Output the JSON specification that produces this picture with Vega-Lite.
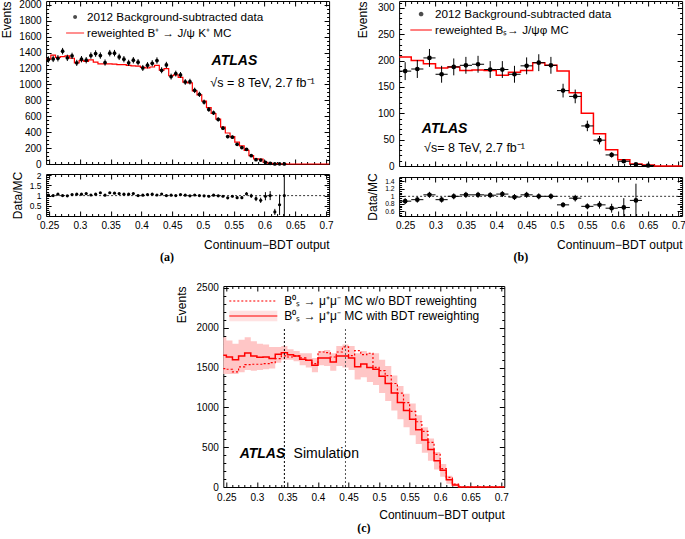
{
  "$schema": "https://vega.github.io/schema/vega-lite/v6.json",
  "padding": {"left": 0, "top": -3, "right": 0, "bottom": 0},
  "background": "white",
  "config": {
    "font": "Liberation Sans",
    "view": {"stroke": "#000", "strokeWidth": 1},
    "axis": {"domain": false, "grid": false, "labelFont": "Liberation Sans", "labelFontSize": 10, "labelColor": "#000", "titleFont": "Liberation Sans", "titleFontSize": 12, "titleFontWeight": "normal", "titleColor": "#000", "tickColor": "#000", "tickWidth": 1, "labelOverlap": false, "labelFlush": false},
    "legend": {"labelFont": "Liberation Sans", "labelColor": "#000"},
    "title": {"font": "Liberation Serif", "fontSize": 12, "fontWeight": "bold", "color": "#000"}
  },
  "datasets": {
    "a": [
      {"lo":0.245,"x":0.2488,"n":1314,"e":40,"mc":1320,"r":1.02,"re":0.04},
      {"lo":0.2527,"x":0.2565,"n":1322,"e":40,"mc":1370,"r":1.0,"re":0.04},
      {"lo":0.2603,"x":0.2642,"n":1330,"e":40,"mc":1340,"r":1.07,"re":0.04},
      {"lo":0.268,"x":0.2718,"n":1419,"e":41,"mc":1350,"r":1.0,"re":0.04},
      {"lo":0.2757,"x":0.2795,"n":1335,"e":40,"mc":1360,"r":0.99,"re":0.04},
      {"lo":0.2833,"x":0.2872,"n":1360,"e":40,"mc":1330,"r":1.05,"re":0.04},
      {"lo":0.291,"x":0.2948,"n":1272,"e":39,"mc":1270,"r":1.07,"re":0.04},
      {"lo":0.2987,"x":0.3025,"n":1318,"e":40,"mc":1300,"r":1.07,"re":0.04},
      {"lo":0.3063,"x":0.3102,"n":1305,"e":40,"mc":1290,"r":1.1,"re":0.04},
      {"lo":0.314,"x":0.3178,"n":1364,"e":40,"mc":1310,"r":1.03,"re":0.04},
      {"lo":0.3217,"x":0.3255,"n":1389,"e":41,"mc":1280,"r":1.07,"re":0.04},
      {"lo":0.3293,"x":0.3332,"n":1364,"e":40,"mc":1260,"r":1.14,"re":0.04},
      {"lo":0.337,"x":0.3408,"n":1276,"e":39,"mc":1260,"r":1.02,"re":0.04},
      {"lo":0.3447,"x":0.3485,"n":1394,"e":41,"mc":1260,"r":1.14,"re":0.04},
      {"lo":0.3523,"x":0.3562,"n":1394,"e":41,"mc":1255,"r":1.12,"re":0.04},
      {"lo":0.36,"x":0.3638,"n":1347,"e":40,"mc":1250,"r":1.1,"re":0.04},
      {"lo":0.3677,"x":0.3715,"n":1318,"e":40,"mc":1250,"r":1.07,"re":0.04},
      {"lo":0.3753,"x":0.3792,"n":1272,"e":39,"mc":1240,"r":1.07,"re":0.04},
      {"lo":0.383,"x":0.3868,"n":1305,"e":40,"mc":1235,"r":1.1,"re":0.04},
      {"lo":0.3907,"x":0.3945,"n":1280,"e":39,"mc":1230,"r":1.0,"re":0.04},
      {"lo":0.3983,"x":0.4022,"n":1208,"e":38,"mc":1215,"r":1.02,"re":0.04},
      {"lo":0.406,"x":0.4098,"n":1242,"e":39,"mc":1210,"r":1.05,"re":0.04},
      {"lo":0.4137,"x":0.4175,"n":1267,"e":39,"mc":1220,"r":1.07,"re":0.04},
      {"lo":0.4213,"x":0.4252,"n":1301,"e":40,"mc":1240,"r":1.03,"re":0.04},
      {"lo":0.429,"x":0.4328,"n":1179,"e":38,"mc":1180,"r":1.08,"re":0.04},
      {"lo":0.4367,"x":0.4405,"n":1246,"e":39,"mc":1200,"r":1.0,"re":0.04},
      {"lo":0.4443,"x":0.4482,"n":1099,"e":37,"mc":1110,"r":1.02,"re":0.04},
      {"lo":0.452,"x":0.4558,"n":1137,"e":37,"mc":1120,"r":1.0,"re":0.04},
      {"lo":0.4597,"x":0.4635,"n":1120,"e":37,"mc":1090,"r":1.05,"re":0.04},
      {"lo":0.4673,"x":0.4712,"n":1032,"e":36,"mc":1030,"r":1.02,"re":0.04},
      {"lo":0.475,"x":0.4788,"n":1036,"e":36,"mc":1020,"r":0.99,"re":0.04},
      {"lo":0.4827,"x":0.4865,"n":926,"e":34,"mc":920,"r":1.03,"re":0.04},
      {"lo":0.4903,"x":0.4942,"n":876,"e":33,"mc":870,"r":1.0,"re":0.04},
      {"lo":0.498,"x":0.5018,"n":779,"e":31,"mc":790,"r":0.99,"re":0.04},
      {"lo":0.5057,"x":0.5095,"n":686,"e":29,"mc":710,"r":0.97,"re":0.05},
      {"lo":0.5133,"x":0.5172,"n":644,"e":28,"mc":635,"r":1.02,"re":0.05},
      {"lo":0.521,"x":0.5248,"n":560,"e":26,"mc":565,"r":0.99,"re":0.05},
      {"lo":0.5287,"x":0.5325,"n":451,"e":24,"mc":465,"r":0.97,"re":0.05},
      {"lo":0.5363,"x":0.5402,"n":345,"e":21,"mc":390,"r":0.89,"re":0.06},
      {"lo":0.544,"x":0.5478,"n":337,"e":21,"mc":345,"r":0.97,"re":0.06},
      {"lo":0.5517,"x":0.5555,"n":248,"e":18,"mc":275,"r":0.9,"re":0.07},
      {"lo":0.5593,"x":0.5632,"n":206,"e":16,"mc":228,"r":0.9,"re":0.07},
      {"lo":0.567,"x":0.5708,"n":185,"e":15,"mc":172,"r":1.09,"re":0.08},
      {"lo":0.5747,"x":0.5785,"n":105,"e":12,"mc":106,"r":0.99,"re":0.1},
      {"lo":0.5823,"x":0.5862,"n":55,"e":9,"mc":65,"r":0.85,"re":0.12},
      {"lo":0.59,"x":0.5938,"n":50,"e":8,"mc":62,"r":0.77,"re":0.13},
      {"lo":0.5977,"x":0.6015,"n":21,"e":5,"mc":22,"r":0.97,"re":0.2},
      {"lo":0.6053,"x":0.6092,"n":8,"e":3.5,"mc":8,"r":1.0,"re":0.22},
      {"lo":0.613,"x":0.6168,"n":1,"e":1.5,"mc":5,"r":0.2,"re":0.15},
      {"lo":0.6207,"x":0.6245,"n":1.6,"e":1.5,"mc":3,"r":0.55,"re":0.5},
      {"lo":0.6283,"x":0.6322,"n":0.6,"e":1,"mc":0.6,"r":1.0,"re":1.5},
      {"lo":0.636,"mc":0},
      {"lo":0.705,"mc":0}
    ],
    "b": [
      {"lo":0.24,"hi":0.26,"x":0.25,"n":180,"e":17,"mc":207,"r":0.87,"re":0.08},
      {"lo":0.26,"hi":0.28,"x":0.27,"n":184,"e":17,"mc":200,"r":0.91,"re":0.08},
      {"lo":0.28,"hi":0.30,"x":0.29,"n":205,"e":17,"mc":194,"r":1.04,"re":0.08},
      {"lo":0.30,"hi":0.32,"x":0.31,"n":174,"e":16,"mc":186,"r":0.91,"re":0.08},
      {"lo":0.32,"hi":0.34,"x":0.33,"n":188,"e":16,"mc":188,"r":1.0,"re":0.08},
      {"lo":0.34,"hi":0.36,"x":0.35,"n":191,"e":16,"mc":181,"r":1.04,"re":0.08},
      {"lo":0.36,"hi":0.38,"x":0.37,"n":193,"e":16,"mc":182,"r":1.04,"re":0.08},
      {"lo":0.38,"hi":0.40,"x":0.39,"n":183,"e":16,"mc":181,"r":1.03,"re":0.08},
      {"lo":0.40,"hi":0.42,"x":0.41,"n":183,"e":16,"mc":172,"r":1.06,"re":0.08},
      {"lo":0.42,"hi":0.44,"x":0.43,"n":174,"e":16,"mc":178,"r":0.98,"re":0.08},
      {"lo":0.44,"hi":0.46,"x":0.45,"n":190,"e":16,"mc":181,"r":1.04,"re":0.08},
      {"lo":0.46,"hi":0.48,"x":0.47,"n":196,"e":16,"mc":196,"r":1.0,"re":0.08},
      {"lo":0.48,"hi":0.50,"x":0.49,"n":191,"e":16,"mc":191,"r":1.0,"re":0.08},
      {"lo":0.50,"hi":0.52,"x":0.51,"n":143,"e":13,"mc":180,"r":0.77,"re":0.07},
      {"lo":0.52,"hi":0.54,"x":0.53,"n":132,"e":13,"mc":139,"r":0.95,"re":0.09},
      {"lo":0.54,"hi":0.56,"x":0.55,"n":76,"e":10,"mc":100,"r":0.73,"re":0.08},
      {"lo":0.56,"hi":0.58,"x":0.57,"n":49,"e":8,"mc":61,"r":0.77,"re":0.1},
      {"lo":0.58,"hi":0.60,"x":0.59,"n":21,"e":5,"mc":31,"r":0.68,"re":0.12},
      {"lo":0.60,"hi":0.62,"x":0.61,"n":9,"e":3,"mc":12,"r":0.70,"re":0.25},
      {"lo":0.62,"hi":0.64,"x":0.63,"n":3,"e":2,"mc":4,"r":0.89,"re":0.45},
      {"lo":0.64,"hi":0.66,"x":0.65,"n":1,"e":1,"mc":2},
      {"lo":0.66,"mc":0},
      {"lo":0.706,"mc":0}
    ],
    "c": [
      {"lo":0.245,"w":1654,"wo":1488,"blo":1420,"bhi":1880},
      {"lo":0.25,"w":1633,"wo":1479,"blo":1420,"bhi":1840},
      {"lo":0.26,"w":1600,"wo":1446,"blo":1420,"bhi":1800},
      {"lo":0.27,"w":1646,"wo":1508,"blo":1440,"bhi":1850},
      {"lo":0.28,"w":1683,"wo":1538,"blo":1470,"bhi":1880},
      {"lo":0.29,"w":1646,"wo":1542,"blo":1460,"bhi":1830},
      {"lo":0.30,"w":1629,"wo":1542,"blo":1470,"bhi":1800},
      {"lo":0.31,"w":1633,"wo":1550,"blo":1480,"bhi":1790},
      {"lo":0.32,"w":1613,"wo":1562,"blo":1490,"bhi":1760},
      {"lo":0.33,"w":1667,"wo":1613,"blo":1560,"bhi":1760},
      {"lo":0.34,"w":1688,"wo":1646,"blo":1600,"bhi":1770},
      {"lo":0.35,"w":1662,"wo":1633,"blo":1600,"bhi":1730},
      {"lo":0.36,"w":1646,"wo":1646,"blo":1580,"bhi":1710},
      {"lo":0.37,"w":1604,"wo":1621,"blo":1530,"bhi":1680},
      {"lo":0.38,"w":1592,"wo":1592,"blo":1500,"bhi":1680},
      {"lo":0.39,"w":1529,"wo":1550,"blo":1440,"bhi":1620},
      {"lo":0.40,"w":1621,"wo":1696,"blo":1530,"bhi":1710},
      {"lo":0.41,"w":1621,"wo":1688,"blo":1520,"bhi":1720},
      {"lo":0.42,"w":1571,"wo":1633,"blo":1460,"bhi":1680},
      {"lo":0.43,"w":1646,"wo":1696,"blo":1520,"bhi":1770},
      {"lo":0.44,"w":1646,"wo":1760,"blo":1500,"bhi":1790},
      {"lo":0.45,"w":1621,"wo":1650,"blo":1470,"bhi":1770},
      {"lo":0.46,"w":1512,"wo":1712,"blo":1350,"bhi":1680},
      {"lo":0.47,"w":1546,"wo":1663,"blo":1380,"bhi":1710},
      {"lo":0.48,"w":1500,"wo":1680,"blo":1320,"bhi":1680},
      {"lo":0.49,"w":1480,"wo":1504,"blo":1280,"bhi":1680},
      {"lo":0.50,"w":1390,"wo":1463,"blo":1180,"bhi":1600},
      {"lo":0.51,"w":1300,"wo":1400,"blo":1080,"bhi":1520},
      {"lo":0.52,"w":1180,"wo":1300,"blo":960,"bhi":1400},
      {"lo":0.53,"w":1060,"wo":1180,"blo":850,"bhi":1270},
      {"lo":0.54,"w":960,"wo":1060,"blo":750,"bhi":1170},
      {"lo":0.55,"w":850,"wo":950,"blo":650,"bhi":1050},
      {"lo":0.56,"w":720,"wo":820,"blo":540,"bhi":900},
      {"lo":0.57,"w":590,"wo":700,"blo":430,"bhi":750},
      {"lo":0.58,"w":470,"wo":560,"blo":330,"bhi":610},
      {"lo":0.59,"w":330,"wo":410,"blo":220,"bhi":440},
      {"lo":0.60,"w":210,"wo":230,"blo":130,"bhi":290},
      {"lo":0.61,"w":90,"wo":120,"blo":40,"bhi":140},
      {"lo":0.62,"w":25,"wo":35,"blo":5,"bhi":45},
      {"lo":0.63,"w":0,"wo":0,"blo":0,"bhi":0},
      {"lo":0.705,"w":0,"wo":0,"blo":0,"bhi":0}
    ],
    "cuts": [{"cut":0.345,"tone":"a"},{"cut":0.445,"tone":"b"}],
    "one": [{}]
  },
  "vconcat": [
    {
      "hconcat": [
        {
          "vconcat": [
            {
              "width": 283, "height": 163,
              "data": {"name": "a"},
              "layer": [
                {
                  "mark": {"type": "line", "interpolate": "step-after", "color": "#ff0000", "strokeWidth": 1.2},
                  "encoding": {
                    "x": {"field": "lo", "type": "quantitative", "scale": {"domain": [0.245, 0.705], "nice": false, "zero": false},
                      "axis": {"orient": "bottom", "values": [0.25,0.26,0.27,0.28,0.29,0.3,0.31,0.32,0.33,0.34,0.35,0.36,0.37,0.38,0.39,0.4,0.41,0.42,0.43,0.44,0.45,0.46,0.47,0.48,0.49,0.5,0.51,0.52,0.53,0.54,0.55,0.56,0.57,0.58,0.59,0.6,0.61,0.62,0.63,0.64,0.65,0.66,0.67,0.68,0.69,0.7], "labels": false, "title": null,
                        "tickSize": {"condition": {"test": "abs(datum.value*20-round(datum.value*20))<0.01", "value": -5}, "value": -2.5}}},
                    "y": {"field": "mc", "type": "quantitative", "scale": {"domain": [0, 2050], "nice": false},
                      "axis": {"orient": "left", "values": [0,50,100,150,200,250,300,350,400,450,500,550,600,650,700,750,800,850,900,950,1000,1050,1100,1150,1200,1250,1300,1350,1400,1450,1500,1550,1600,1650,1700,1750,1800,1850,1900,1950,2000], "format": "d",
                        "labelExpr": "datum.value % 200 == 0 ? datum.label : ''",
                        "tickSize": {"condition": {"test": "datum.value % 200 == 0", "value": -5}, "value": -2.5},
                        "labelPadding": 10, "title": "Events", "titleAnchor": "end", "titlePadding": 5}}
                  }
                },
                {
                  "transform": [{"filter": "isValid(datum.n)"}],
                  "mark": {"type": "errorbar", "color": "#000", "thickness": 1},
                  "encoding": {
                    "x": {"field": "x", "type": "quantitative", "axis": null},
                    "y": {"field": "n", "type": "quantitative", "axis": null},
                    "yError": {"field": "e"}
                  }
                },
                {
                  "mark": {"type": "point", "filled": true, "color": "#000", "size": 14, "opacity": 1},
                  "encoding": {
                    "x": {"field": "x", "type": "quantitative", "axis": null},
                    "y": {"field": "n", "type": "quantitative", "axis": null}
                  }
                },
                {
                  "transform": [{"filter": "datum.lo < 0"}],
                  "mark": {"type": "point", "filled": true},
                  "encoding": {
                    "x": {"field": "lo", "type": "quantitative",
                      "axis": {"orient": "top", "values": [0.25,0.26,0.27,0.28,0.29,0.3,0.31,0.32,0.33,0.34,0.35,0.36,0.37,0.38,0.39,0.4,0.41,0.42,0.43,0.44,0.45,0.46,0.47,0.48,0.49,0.5,0.51,0.52,0.53,0.54,0.55,0.56,0.57,0.58,0.59,0.6,0.61,0.62,0.63,0.64,0.65,0.66,0.67,0.68,0.69,0.7], "labels": false, "title": null,
                        "tickSize": {"condition": {"test": "abs(datum.value*20-round(datum.value*20))<0.01", "value": -5}, "value": -2.5}}},
                    "y": {"field": "mc", "type": "quantitative",
                      "axis": {"orient": "right", "values": [0,50,100,150,200,250,300,350,400,450,500,550,600,650,700,750,800,850,900,950,1000,1050,1100,1150,1200,1250,1300,1350,1400,1450,1500,1550,1600,1650,1700,1750,1800,1850,1900,1950,2000], "labels": false, "title": null,
                        "tickSize": {"condition": {"test": "datum.value % 200 == 0", "value": -5}, "value": -2.5}}},
                    "color": {"field": "sa", "type": "nominal", "scale": {"domain": ["2012 Background-subtracted data", "reweighted B⁺ → J/ψ K⁺ MC"], "range": ["#000000", "#ff0000"]},
                      "legend": {"title": null, "orient": "none", "legendX": 20, "legendY": 7, "symbolSize": 324, "symbolStrokeWidth": 0, "labelFontSize": 11.7, "labelOffset": 3, "rowPadding": 0, "padding": 0, "labelLimit": 400}},
                    "shape": {"field": "sa", "type": "nominal", "scale": {"domain": ["2012 Background-subtracted data", "reweighted B⁺ → J/ψ K⁺ MC"], "range": ["M-0.22,0A0.22,0.22 0 1,0 0.22,0A0.22,0.22 0 1,0 -0.22,0Z", "M-1,-0.07H1V0.07H-1Z"]},
                      "legend": {"title": null, "orient": "none", "legendX": 20, "legendY": 7, "symbolSize": 324, "symbolStrokeWidth": 0, "labelFontSize": 11.7, "labelOffset": 3, "rowPadding": 0, "padding": 0, "labelLimit": 400}}
                  }
                },
                {
                  "data": {"name": "one"},
                  "mark": {"type": "text", "text": "ATLAS", "font": "Liberation Sans", "fontSize": 14, "fontWeight": "bold", "fontStyle": "italic", "align": "left", "baseline": "middle"},
                  "encoding": {"x": {"datum": 0.514, "type": "quantitative", "axis": null}, "y": {"datum": 1292, "type": "quantitative", "axis": null}}
                },
                {
                  "data": {"name": "one"},
                  "mark": {"type": "text", "text": "√s = 8 TeV, 2.7 fb⁻¹", "font": "Liberation Sans", "fontSize": 12.5, "align": "left", "baseline": "middle"},
                  "encoding": {"x": {"datum": 0.512, "type": "quantitative", "axis": null}, "y": {"datum": 1020, "type": "quantitative", "axis": null}}
                }
              ],
              "resolve": {"axis": {"x": "independent", "y": "independent"}}
            },
            {
              "width": 283, "height": 42,
              "data": {"name": "a"},
              "layer": [
                {
                  "transform": [{"filter": "isValid(datum.r)"}],
                  "mark": {"type": "point", "filled": true, "color": "#000", "size": 10, "opacity": 1},
                  "encoding": {
                    "x": {"field": "x", "type": "quantitative", "scale": {"domain": [0.245, 0.705], "nice": false, "zero": false},
                      "axis": {"orient": "bottom", "values": [0.25,0.26,0.27,0.28,0.29,0.3,0.31,0.32,0.33,0.34,0.35,0.36,0.37,0.38,0.39,0.4,0.41,0.42,0.43,0.44,0.45,0.46,0.47,0.48,0.49,0.5,0.51,0.52,0.53,0.54,0.55,0.56,0.57,0.58,0.59,0.6,0.61,0.62,0.63,0.64,0.65,0.66,0.67,0.68,0.69,0.7], "format": ".2~f",
                        "labelExpr": "abs(datum.value*20-round(datum.value*20))<0.01 ? datum.label : ''",
                        "tickSize": {"condition": {"test": "abs(datum.value*20-round(datum.value*20))<0.01", "value": -5}, "value": -2.5},
                        "labelPadding": 9, "title": "Continuum−BDT output", "titleAnchor": "end", "titlePadding": 7}},
                    "y": {"field": "r", "type": "quantitative", "scale": {"domain": [0, 2.06], "nice": false, "clamp": true},
                      "axis": {"orient": "left", "values": [0,0.1,0.2,0.3,0.4,0.5,0.6,0.7,0.8,0.9,1,1.1,1.2,1.3,1.4,1.5,1.6,1.7,1.8,1.9,2], "format": ".1~f",
                        "labelExpr": "abs(datum.value*2-round(datum.value*2))<0.01 ? datum.label : ''",
                        "tickSize": {"condition": {"test": "abs(datum.value*2-round(datum.value*2))<0.01", "value": -5}, "value": -2.5},
                        "labelFontSize": 8.5, "labelPadding": 10, "title": "Data/MC", "titleAnchor": "middle", "titlePadding": 5}}
                  }
                },
                {
                  "transform": [{"filter": "isValid(datum.r)"}],
                  "mark": {"type": "errorbar", "color": "#000", "thickness": 1},
                  "encoding": {
                    "x": {"field": "x", "type": "quantitative", "axis": null},
                    "y": {"field": "r", "type": "quantitative", "axis": null},
                    "yError": {"field": "re"}
                  }
                },
                {
                  "data": {"name": "one"},
                  "mark": {"type": "rule", "color": "#000", "strokeDash": [2, 2], "strokeWidth": 0.8},
                  "encoding": {"y": {"datum": 1, "type": "quantitative", "axis": null}}
                },
                {
                  "transform": [{"filter": "datum.lo < 0"}],
                  "mark": {"type": "point"},
                  "encoding": {
                    "x": {"field": "x", "type": "quantitative",
                      "axis": {"orient": "top", "values": [0.25,0.26,0.27,0.28,0.29,0.3,0.31,0.32,0.33,0.34,0.35,0.36,0.37,0.38,0.39,0.4,0.41,0.42,0.43,0.44,0.45,0.46,0.47,0.48,0.49,0.5,0.51,0.52,0.53,0.54,0.55,0.56,0.57,0.58,0.59,0.6,0.61,0.62,0.63,0.64,0.65,0.66,0.67,0.68,0.69,0.7], "labels": false, "title": null,
                        "tickSize": {"condition": {"test": "abs(datum.value*20-round(datum.value*20))<0.01", "value": -5}, "value": -2.5}}},
                    "y": {"field": "r", "type": "quantitative",
                      "axis": {"orient": "right", "values": [0,0.1,0.2,0.3,0.4,0.5,0.6,0.7,0.8,0.9,1,1.1,1.2,1.3,1.4,1.5,1.6,1.7,1.8,1.9,2], "labels": false, "title": null,
                        "tickSize": {"condition": {"test": "abs(datum.value*2-round(datum.value*2))<0.01", "value": -5}, "value": -2.5}}}
                  }
                }
              ],
              "resolve": {"axis": {"x": "independent", "y": "independent"}}
            }
          ],
          "spacing": 0,
          "title": {"text": "(a)", "orient": "bottom", "anchor": "middle", "offset": 1},
          "resolve": {"scale": {"x": "independent", "y": "independent", "color": "independent", "shape": "independent"}, "legend": {"color": "independent", "shape": "independent"}}
        },
        {
          "vconcat": [
            {
              "width": 283, "height": 165,
              "data": {"name": "b"},
              "layer": [
                {
                  "mark": {"type": "line", "interpolate": "step-after", "color": "#ff0000", "strokeWidth": 1.5},
                  "encoding": {
                    "x": {"field": "lo", "type": "quantitative", "scale": {"domain": [0.24, 0.706], "nice": false, "zero": false},
                      "axis": {"orient": "bottom", "values": [0.25,0.26,0.27,0.28,0.29,0.3,0.31,0.32,0.33,0.34,0.35,0.36,0.37,0.38,0.39,0.4,0.41,0.42,0.43,0.44,0.45,0.46,0.47,0.48,0.49,0.5,0.51,0.52,0.53,0.54,0.55,0.56,0.57,0.58,0.59,0.6,0.61,0.62,0.63,0.64,0.65,0.66,0.67,0.68,0.69,0.7], "labels": false, "title": null,
                        "tickSize": {"condition": {"test": "abs(datum.value*20-round(datum.value*20))<0.01", "value": -5}, "value": -2.5}}},
                    "y": {"field": "mc", "type": "quantitative", "scale": {"domain": [0, 313], "nice": false},
                      "axis": {"orient": "left", "values": [0,10,20,30,40,50,60,70,80,90,100,110,120,130,140,150,160,170,180,190,200,210,220,230,240,250,260,270,280,290,300,310], "format": "d",
                        "labelExpr": "datum.value % 50 == 0 ? datum.label : ''",
                        "tickSize": {"condition": {"test": "datum.value % 50 == 0", "value": -5}, "value": -2.5},
                        "labelPadding": 10, "title": "Events", "titleAnchor": "end", "titlePadding": 8}}
                  }
                },
                {
                  "transform": [{"filter": "isValid(datum.n)"}],
                  "mark": {"type": "rule", "color": "#000", "strokeWidth": 1},
                  "encoding": {
                    "x": {"field": "lo", "type": "quantitative", "axis": null},
                    "x2": {"field": "hi"},
                    "y": {"field": "n", "type": "quantitative", "axis": null}
                  }
                },
                {
                  "transform": [{"filter": "isValid(datum.n)"}],
                  "mark": {"type": "errorbar", "color": "#000", "thickness": 1},
                  "encoding": {
                    "x": {"field": "x", "type": "quantitative", "axis": null},
                    "y": {"field": "n", "type": "quantitative", "axis": null},
                    "yError": {"field": "e"}
                  }
                },
                {
                  "mark": {"type": "point", "filled": true, "color": "#000", "size": 22, "opacity": 1},
                  "encoding": {
                    "x": {"field": "x", "type": "quantitative", "axis": null},
                    "y": {"field": "n", "type": "quantitative", "axis": null}
                  }
                },
                {
                  "transform": [{"filter": "datum.lo < 0"}],
                  "mark": {"type": "point", "filled": true},
                  "encoding": {
                    "x": {"field": "lo", "type": "quantitative",
                      "axis": {"orient": "top", "values": [0.25,0.26,0.27,0.28,0.29,0.3,0.31,0.32,0.33,0.34,0.35,0.36,0.37,0.38,0.39,0.4,0.41,0.42,0.43,0.44,0.45,0.46,0.47,0.48,0.49,0.5,0.51,0.52,0.53,0.54,0.55,0.56,0.57,0.58,0.59,0.6,0.61,0.62,0.63,0.64,0.65,0.66,0.67,0.68,0.69,0.7], "labels": false, "title": null,
                        "tickSize": {"condition": {"test": "abs(datum.value*20-round(datum.value*20))<0.01", "value": -5}, "value": -2.5}}},
                    "y": {"field": "mc", "type": "quantitative",
                      "axis": {"orient": "right", "values": [0,10,20,30,40,50,60,70,80,90,100,110,120,130,140,150,160,170,180,190,200,210,220,230,240,250,260,270,280,290,300,310], "labels": false, "title": null,
                        "tickSize": {"condition": {"test": "datum.value % 50 == 0", "value": -5}, "value": -2.5}}},
                    "color": {"field": "sb", "type": "nominal", "scale": {"domain": ["2012 Background-subtracted data", "reweighted Bₛ→ J/ψφ MC"], "range": ["#000000", "#ff0000"]},
                      "legend": {"title": null, "orient": "none", "legendX": 13, "legendY": 4, "symbolSize": 324, "symbolStrokeWidth": 0, "labelFontSize": 11.7, "labelOffset": 5, "rowPadding": 0, "padding": 0, "labelLimit": 400}},
                    "shape": {"field": "sb", "type": "nominal", "scale": {"domain": ["2012 Background-subtracted data", "reweighted Bₛ→ J/ψφ MC"], "range": ["M-0.26,0A0.26,0.26 0 1,0 0.26,0A0.26,0.26 0 1,0 -0.26,0Z", "M-1.2,-0.08H1.2V0.08H-1.2Z"]},
                      "legend": {"title": null, "orient": "none", "legendX": 13, "legendY": 4, "symbolSize": 324, "symbolStrokeWidth": 0, "labelFontSize": 11.7, "labelOffset": 5, "rowPadding": 0, "padding": 0, "labelLimit": 400}}
                  }
                },
                {
                  "data": {"name": "one"},
                  "mark": {"type": "text", "text": "ATLAS", "font": "Liberation Sans", "fontSize": 14, "fontWeight": "bold", "fontStyle": "italic", "align": "left", "baseline": "middle"},
                  "encoding": {"x": {"datum": 0.2774, "type": "quantitative", "axis": null}, "y": {"datum": 70, "type": "quantitative", "axis": null}}
                },
                {
                  "data": {"name": "one"},
                  "mark": {"type": "text", "text": "√s= 8 TeV, 2.7 fb⁻¹", "font": "Liberation Sans", "fontSize": 12.5, "align": "left", "baseline": "middle"},
                  "encoding": {"x": {"datum": 0.2812, "type": "quantitative", "axis": null}, "y": {"datum": 34, "type": "quantitative", "axis": null}}
                }
              ],
              "resolve": {"axis": {"x": "independent", "y": "independent"}}
            },
            {
              "width": 283, "height": 39,
              "data": {"name": "b"},
              "layer": [
                {
                  "transform": [{"filter": "isValid(datum.r)"}],
                  "mark": {"type": "point", "filled": true, "color": "#000", "size": 22, "opacity": 1},
                  "encoding": {
                    "x": {"field": "x", "type": "quantitative", "scale": {"domain": [0.24, 0.706], "nice": false, "zero": false},
                      "axis": {"orient": "bottom", "values": [0.25,0.26,0.27,0.28,0.29,0.3,0.31,0.32,0.33,0.34,0.35,0.36,0.37,0.38,0.39,0.4,0.41,0.42,0.43,0.44,0.45,0.46,0.47,0.48,0.49,0.5,0.51,0.52,0.53,0.54,0.55,0.56,0.57,0.58,0.59,0.6,0.61,0.62,0.63,0.64,0.65,0.66,0.67,0.68,0.69,0.7], "format": ".2~f",
                        "labelExpr": "abs(datum.value*20-round(datum.value*20))<0.01 ? datum.label : ''",
                        "tickSize": {"condition": {"test": "abs(datum.value*20-round(datum.value*20))<0.01", "value": -5}, "value": -2.5},
                        "labelPadding": 9, "title": "Continuum−BDT output", "titleAnchor": "end", "titlePadding": 7}},
                    "y": {"field": "r", "type": "quantitative", "scale": {"domain": [0.47, 1.52], "nice": false, "clamp": true},
                      "axis": {"orient": "left", "values": [0.5,0.55,0.6,0.65,0.7,0.75,0.8,0.85,0.9,0.95,1,1.05,1.1,1.15,1.2,1.25,1.3,1.35,1.4,1.45,1.5], "format": ".1~f",
                        "labelExpr": "abs(datum.value*5-round(datum.value*5))<0.01 && datum.value > 0.55 && datum.value < 1.45 ? datum.label : ''",
                        "tickSize": {"condition": {"test": "abs(datum.value*5-round(datum.value*5))<0.01", "value": -5}, "value": -2.5},
                        "labelFontSize": 6.8, "labelPadding": 10, "title": "Data/MC", "titleAnchor": "middle", "titlePadding": 5}}
                  }
                },
                {
                  "transform": [{"filter": "isValid(datum.r)"}],
                  "mark": {"type": "errorbar", "color": "#000", "thickness": 1},
                  "encoding": {
                    "x": {"field": "x", "type": "quantitative", "axis": null},
                    "y": {"field": "r", "type": "quantitative", "axis": null},
                    "yError": {"field": "re"}
                  }
                },
                {
                  "transform": [{"filter": "isValid(datum.r)"}],
                  "mark": {"type": "rule", "color": "#000", "strokeWidth": 1},
                  "encoding": {
                    "x": {"field": "lo", "type": "quantitative", "axis": null},
                    "x2": {"field": "hi"},
                    "y": {"field": "r", "type": "quantitative", "axis": null}
                  }
                },
                {
                  "data": {"name": "one"},
                  "mark": {"type": "rule", "color": "#000", "strokeDash": [2, 2], "strokeWidth": 0.8},
                  "encoding": {"y": {"datum": 1, "type": "quantitative", "axis": null}}
                },
                {
                  "transform": [{"filter": "datum.lo < 0"}],
                  "mark": {"type": "point"},
                  "encoding": {
                    "x": {"field": "x", "type": "quantitative",
                      "axis": {"orient": "top", "values": [0.25,0.26,0.27,0.28,0.29,0.3,0.31,0.32,0.33,0.34,0.35,0.36,0.37,0.38,0.39,0.4,0.41,0.42,0.43,0.44,0.45,0.46,0.47,0.48,0.49,0.5,0.51,0.52,0.53,0.54,0.55,0.56,0.57,0.58,0.59,0.6,0.61,0.62,0.63,0.64,0.65,0.66,0.67,0.68,0.69,0.7], "labels": false, "title": null,
                        "tickSize": {"condition": {"test": "abs(datum.value*20-round(datum.value*20))<0.01", "value": -5}, "value": -2.5}}},
                    "y": {"field": "r", "type": "quantitative",
                      "axis": {"orient": "right", "values": [0.5,0.55,0.6,0.65,0.7,0.75,0.8,0.85,0.9,0.95,1,1.05,1.1,1.15,1.2,1.25,1.3,1.35,1.4,1.45,1.5], "labels": false, "title": null,
                        "tickSize": {"condition": {"test": "abs(datum.value*5-round(datum.value*5))<0.01", "value": -5}, "value": -2.5}}}
                  }
                }
              ],
              "resolve": {"axis": {"x": "independent", "y": "independent"}}
            }
          ],
          "spacing": 0,
          "title": {"text": "(b)", "orient": "bottom", "anchor": "middle", "offset": 1},
          "resolve": {"scale": {"x": "independent", "y": "independent", "color": "independent", "shape": "independent"}, "legend": {"color": "independent", "shape": "independent"}}
        }
      ],
      "spacing": 21,
      "resolve": {"scale": {"x": "independent", "y": "independent", "color": "independent", "shape": "independent"}, "legend": {"color": "independent", "shape": "independent"}}
    },
    {
      "width": 281, "height": 201,
      "data": {"name": "c"},
      "title": {"text": "(c)", "orient": "bottom", "anchor": "middle", "offset": 2},
      "layer": [
        {
          "mark": {"type": "area", "interpolate": "step-after", "color": "#ffc6c6", "opacity": 1},
          "encoding": {
            "x": {"field": "lo", "type": "quantitative", "scale": {"domain": [0.245, 0.705], "nice": false, "zero": false},
              "axis": {"orient": "bottom", "values": [0.25,0.26,0.27,0.28,0.29,0.3,0.31,0.32,0.33,0.34,0.35,0.36,0.37,0.38,0.39,0.4,0.41,0.42,0.43,0.44,0.45,0.46,0.47,0.48,0.49,0.5,0.51,0.52,0.53,0.54,0.55,0.56,0.57,0.58,0.59,0.6,0.61,0.62,0.63,0.64,0.65,0.66,0.67,0.68,0.69,0.7], "format": ".2~f",
                "labelExpr": "abs(datum.value*20-round(datum.value*20))<0.01 ? datum.label : ''",
                "tickSize": {"condition": {"test": "abs(datum.value*20-round(datum.value*20))<0.01", "value": -5}, "value": -2.5},
                "labelPadding": 10, "title": "Continuum−BDT output", "titleAnchor": "end", "titlePadding": 5}},
            "y": {"field": "blo", "type": "quantitative", "scale": {"domain": [0, 2525], "nice": false},
              "axis": {"orient": "left", "values": [0,100,200,300,400,500,600,700,800,900,1000,1100,1200,1300,1400,1500,1600,1700,1800,1900,2000,2100,2200,2300,2400,2500], "format": "d",
                "labelExpr": "datum.value % 500 == 0 ? datum.label : ''",
                "tickSize": {"condition": {"test": "datum.value % 500 == 0", "value": -5}, "value": -2.5},
                "labelPadding": 10, "title": "Events", "titleAnchor": "end", "titlePadding": 8}},
            "y2": {"field": "bhi"}
          }
        },
        {
          "mark": {"type": "line", "interpolate": "step-after", "color": "#ff0000", "strokeWidth": 1.2, "strokeDash": [2, 2]},
          "encoding": {
            "x": {"field": "lo", "type": "quantitative", "axis": null},
            "y": {"field": "wo", "type": "quantitative", "axis": null}
          }
        },
        {
          "mark": {"type": "line", "interpolate": "step-after", "color": "#ff0000", "strokeWidth": 1.5},
          "encoding": {
            "x": {"field": "lo", "type": "quantitative", "axis": null},
            "y": {"field": "w", "type": "quantitative", "axis": null}
          }
        },
        {
          "data": {"name": "cuts"},
          "mark": {"type": "rule", "strokeDash": [2, 2], "strokeWidth": 1},
          "encoding": {
            "x": {"field": "cut", "type": "quantitative", "axis": null},
            "y": {"datum": 0, "type": "quantitative", "axis": null},
            "y2": {"datum": 2000},
            "color": {"field": "tone", "type": "nominal", "scale": {"domain": ["a", "b"], "range": ["#000000", "#555555"]}, "legend": null}
          }
        },
        {
          "data": {"name": "one"},
          "mark": {"type": "text", "text": "ATLAS", "font": "Liberation Sans", "fontSize": 14, "fontWeight": "bold", "fontStyle": "italic", "align": "left", "baseline": "middle"},
          "encoding": {"x": {"datum": 0.2718, "type": "quantitative", "axis": null}, "y": {"datum": 412, "type": "quantitative", "axis": null}}
        },
        {
          "data": {"name": "one"},
          "mark": {"type": "text", "text": "Simulation", "font": "Liberation Sans", "fontSize": 14, "align": "left", "baseline": "middle"},
          "encoding": {"x": {"datum": 0.36, "type": "quantitative", "axis": null}, "y": {"datum": 412, "type": "quantitative", "axis": null}}
        },
        {
          "transform": [{"filter": "datum.lo < 0"}],
          "mark": {"type": "point", "filled": true},
          "encoding": {
            "x": {"field": "lo", "type": "quantitative",
              "axis": {"orient": "top", "values": [0.25,0.26,0.27,0.28,0.29,0.3,0.31,0.32,0.33,0.34,0.35,0.36,0.37,0.38,0.39,0.4,0.41,0.42,0.43,0.44,0.45,0.46,0.47,0.48,0.49,0.5,0.51,0.52,0.53,0.54,0.55,0.56,0.57,0.58,0.59,0.6,0.61,0.62,0.63,0.64,0.65,0.66,0.67,0.68,0.69,0.7], "labels": false, "title": null,
                "tickSize": {"condition": {"test": "abs(datum.value*20-round(datum.value*20))<0.01", "value": -5}, "value": -2.5}}},
            "y": {"field": "w", "type": "quantitative",
              "axis": {"orient": "right", "values": [0,100,200,300,400,500,600,700,800,900,1000,1100,1200,1300,1400,1500,1600,1700,1800,1900,2000,2100,2200,2300,2400,2500], "labels": false, "title": null,
                "tickSize": {"condition": {"test": "datum.value % 500 == 0", "value": -5}, "value": -2.5}}},
            "fill": {"field": "sc", "type": "nominal", "scale": {"domain": ["B⁰ₛ → μ⁺μ⁻ MC w/o BDT reweighting", "B⁰ₛ → μ⁺μ⁻ MC with BDT reweighting"], "range": ["#ffc6c6", "#ffc6c6"]},
              "legend": {"title": null, "orient": "none", "legendX": 21, "legendY": 6, "symbolSize": 256, "symbolStrokeWidth": 1.5, "labelFontSize": 12, "labelOffset": 22, "rowPadding": 0, "padding": 0, "labelLimit": 400}},
            "stroke": {"field": "sc", "type": "nominal", "scale": {"domain": ["B⁰ₛ → μ⁺μ⁻ MC w/o BDT reweighting", "B⁰ₛ → μ⁺μ⁻ MC with BDT reweighting"], "range": ["#ff0000", "#ff0000"]},
              "legend": {"title": null, "orient": "none", "legendX": 21, "legendY": 6, "symbolSize": 256, "symbolStrokeWidth": 1.5, "labelFontSize": 12, "labelOffset": 22, "rowPadding": 0, "padding": 0, "labelLimit": 400}},
            "shape": {"field": "sc", "type": "nominal", "scale": {"domain": ["B⁰ₛ → μ⁺μ⁻ MC w/o BDT reweighting", "B⁰ₛ → μ⁺μ⁻ MC with BDT reweighting"], "range": ["M-3,0H3", "M-3,0H3V-0.65H-3V0.65H3V0"]},
              "legend": {"title": null, "orient": "none", "legendX": 21, "legendY": 6, "symbolSize": 256, "symbolStrokeWidth": 1.5, "labelFontSize": 12, "labelOffset": 22, "rowPadding": 0, "padding": 0, "labelLimit": 400}},
            "strokeDash": {"field": "sc", "type": "nominal", "scale": {"domain": ["B⁰ₛ → μ⁺μ⁻ MC w/o BDT reweighting", "B⁰ₛ → μ⁺μ⁻ MC with BDT reweighting"], "range": [[2, 2], [48, 1000]]},
              "legend": {"title": null, "orient": "none", "legendX": 21, "legendY": 6, "symbolSize": 256, "symbolStrokeWidth": 1.5, "labelFontSize": 12, "labelOffset": 22, "rowPadding": 0, "padding": 0, "labelLimit": 400}}
          }
        }
      ],
      "resolve": {"axis": {"x": "independent", "y": "independent"}}
    }
  ],
  "spacing": 19,
  "center": true,
  "resolve": {"scale": {"x": "independent", "y": "independent", "color": "independent", "shape": "independent", "fill": "independent", "stroke": "independent", "strokeDash": "independent"}, "legend": {"color": "independent", "shape": "independent", "fill": "independent", "stroke": "independent", "strokeDash": "independent"}}
}
